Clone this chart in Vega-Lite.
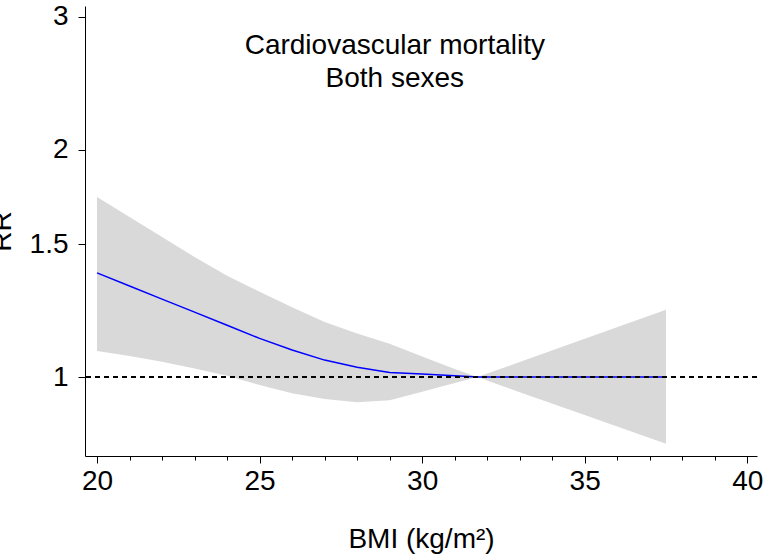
{
  "$schema": "https://vega.github.io/schema/vega-lite/v6.json",
  "width": 672,
  "height": 450,
  "autosize": "none",
  "padding": {"left": 85, "top": 6, "right": 8, "bottom": 101},
  "config": {
    "view": {"stroke": null},
    "font": "Liberation Sans",
    "axis": {
      "grid": false,
      "domainColor": "#000000",
      "domainWidth": 1,
      "tickColor": "#000000",
      "tickWidth": 1,
      "labelColor": "#000000",
      "labelFontSize": 28,
      "labelFont": "Liberation Sans",
      "titleColor": "#000000",
      "titleFontSize": 28,
      "titleFont": "Liberation Sans",
      "titleFontWeight": "normal"
    }
  },
  "datasets": {
    "curve": [
      {"bmi": 20, "rr": 1.374, "lo": 1.083, "hi": 1.731},
      {"bmi": 21, "rr": 1.320, "lo": 1.066, "hi": 1.629},
      {"bmi": 22, "rr": 1.268, "lo": 1.048, "hi": 1.533},
      {"bmi": 23, "rr": 1.219, "lo": 1.026, "hi": 1.442},
      {"bmi": 24, "rr": 1.171, "lo": 1.004, "hi": 1.362},
      {"bmi": 25, "rr": 1.125, "lo": 0.976, "hi": 1.297},
      {"bmi": 26, "rr": 1.086, "lo": 0.952, "hi": 1.237},
      {"bmi": 27, "rr": 1.053, "lo": 0.935, "hi": 1.183},
      {"bmi": 28, "rr": 1.030, "lo": 0.926, "hi": 1.142},
      {"bmi": 29, "rr": 1.014, "lo": 0.932, "hi": 1.107},
      {"bmi": 30, "rr": 1.009, "lo": 0.956, "hi": 1.065},
      {"bmi": 31, "rr": 1.004, "lo": 0.982, "hi": 1.025},
      {"bmi": 31.7, "rr": 1.0, "lo": 1.0, "hi": 1.0},
      {"bmi": 33, "rr": 1.0, "lo": 0.955, "hi": 1.047},
      {"bmi": 35, "rr": 1.0, "lo": 0.891, "hi": 1.124},
      {"bmi": 37.5, "rr": 1.0, "lo": 0.816, "hi": 1.228}
    ],
    "reference": [{"rr": 1}],
    "caption": [{"bmi": 29.16, "rr": 2.68, "text": ["Cardiovascular mortality", "Both sexes"]}]
  },
  "encoding": {
    "x": {
      "field": "bmi",
      "type": "quantitative",
      "scale": {"domain": [19.63, 40.3], "nice": false, "zero": false},
      "axis": {
        "title": "BMI (kg/m²)",
        "values": [20, 21, 22, 23, 24, 25, 26, 27, 28, 29, 30, 31, 32, 33, 34, 35, 36, 37, 38, 39, 40],
        "tickSize": {"condition": {"test": "datum.value % 5 === 0", "value": 7}, "value": 4},
        "labelExpr": "datum.value % 5 === 0 ? datum.label : ''",
        "labelFlush": false,
        "labelPadding": 4,
        "labelOverlap": false,
        "titleY": 91,
        "titleBaseline": "alphabetic"
      }
    }
  },
  "layer": [
    {
      "data": {"name": "curve"},
      "mark": {"type": "area", "color": "#d9d9d9", "opacity": 1},
      "encoding": {
        "y": {
          "field": "lo",
          "type": "quantitative",
          "scale": {"type": "log", "domain": [0.786, 3.1], "nice": false},
          "axis": {
            "title": "RR",
            "values": [1, 1.5, 2, 3],
            "format": "~g",
            "tickSize": 7,
            "labelPadding": 10,
            "titleX": -75,
            "titleBaseline": "alphabetic"
          }
        },
        "y2": {"field": "hi"}
      }
    },
    {
      "data": {"name": "curve"},
      "mark": {"type": "line", "color": "#0000ff", "strokeWidth": 1.5},
      "encoding": {
        "y": {"field": "rr", "type": "quantitative"}
      }
    },
    {
      "data": {"name": "reference"},
      "mark": {"type": "rule", "color": "#000000", "strokeWidth": 2, "strokeDash": [5, 4]},
      "encoding": {
        "y": {"field": "rr", "type": "quantitative"},
        "x": null
      }
    },
    {
      "data": {"name": "caption"},
      "mark": {"type": "text", "fontSize": 28, "font": "Liberation Sans", "color": "#000000", "align": "center", "baseline": "alphabetic", "lineHeight": 33.4},
      "encoding": {
        "y": {"field": "rr", "type": "quantitative"},
        "text": {"field": "text"}
      }
    }
  ]
}
